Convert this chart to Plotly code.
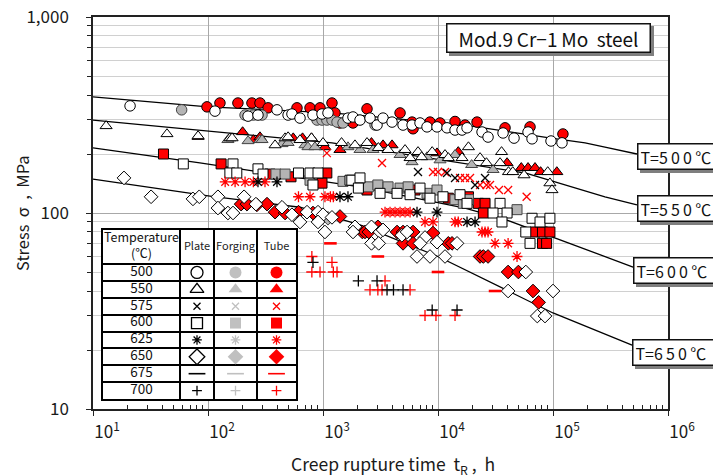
import plotly.graph_objects as go

# ---------------- data (creep rupture time h, stress MPa) ----------------
t500_plate = [21, 115, 223, 272, 398, 497, 537, 631, 818, 980, 1105, 1649, 1823, 2098, 2563, 2950, 3327, 3985, 4966, 5949,
              6975, 8026, 9806, 11981, 14062, 16180, 17885, 24154, 27234, 36780, 45829, 60650, 65722, 96076, 119700]
s500_plate = [352, 331, 312, 316, 336, 316, 320, 305, 316, 320, 324, 305, 309, 298, 305, 281, 305, 291, 281, 281,
              288, 275, 275, 272, 265, 265, 272, 259, 244, 256, 241, 259, 239, 233, 228]
t500_forg = [59, 210, 248, 295, 887, 980, 1080, 1197, 1324, 1492, 2834]
s500_forg = [336, 316, 316, 316, 298, 298, 298, 298, 291, 288, 281]
t500_tube = [98, 127, 182, 241, 283, 333, 594, 771, 942, 1197, 1271, 1405, 1823, 2414, 4677, 5949, 6068, 8522, 10412,
             14062, 17181, 21852, 38287, 63135, 122000]
s500_tube = [348, 364, 364, 364, 364, 344, 344, 344, 344, 364, 324, 288, 288, 340, 324, 291, 269, 291, 288,
             293, 281, 291, 272, 275, 253]

t550_plate = [13, 44, 82, 155, 162, 383, 468, 497, 631, 794, 1000, 1450, 1897, 2414, 3030, 3680, 5170, 5715, 6700, 7200,
              8900, 11509, 12300, 16180, 18400, 23203, 26400, 35700, 34638, 41000, 44700, 56000, 90000, 94000, 98000]
s550_plate = [278, 253, 247, 241, 241, 222, 241, 244, 236, 241, 228, 228, 222, 228, 215, 210, 210, 191, 205, 193,
              205, 198, 191, 191, 217, 191, 180, 205, 180, 162, 162, 156, 162, 142, 131]
t550_forg = [149, 223, 283, 295, 440, 497, 697, 740, 851, 1649, 2098, 2722, 4677, 5949, 8026, 10412, 14062, 19600, 30104]
s550_forg = [236, 233, 236, 236, 225, 228, 222, 217, 217, 217, 210, 210, 198, 182, 193, 186, 198, 176, 166]
t550_tube = [82, 200, 248, 283, 551, 664, 794, 1040, 1405, 2640, 3327, 3985, 9806, 15000, 39856, 53000, 60650, 69787,
             78000, 108000]
s550_tube = [245, 259, 236, 244, 241, 241, 241, 217, 210, 228, 222, 222, 202, 205, 180, 170, 170, 170, 162, 162]

t575_plate = [6700, 11981, 14062, 20992, 25648]
s575_plate = [162, 160, 151, 139, 151]
t575_tube = [1080, 3260, 9049, 10000, 11509, 15543, 17181, 18991, 23203, 26400, 28350, 33900, 40700, 59000]
s575_tube = [202, 180, 162, 162, 162, 151, 151, 151, 139, 139, 139, 131, 131, 121]

t600_plate = [61, 165, 155, 178, 272, 301, 612, 771, 905, 818, 1717, 1780, 2098, 2030, 3133, 4405, 5715, 6975, 8522,
              11056, 15543, 17885, 34638, 30104, 39856, 36000, 65722, 77114, 94000, 58000, 63135]
s600_plate = [178, 178, 160, 160, 168, 158, 160, 160, 160, 139, 147, 147, 151, 134, 126, 126, 124, 134, 119,
              121, 124, 112, 112, 100, 100, 90, 94, 90, 94, 80, 70]
t600_forg = [390, 468, 771, 1492, 2480, 3000, 3680, 4677, 5500, 8026, 9806, 14062, 16600, 18400, 48663]
s600_forg = [158, 158, 147, 145, 136, 139, 136, 134, 136, 126, 131, 117, 112, 117, 104]
t600_tube = [41, 130, 346, 527, 1080, 980, 2414, 6310, 12300, 18400, 22400, 25648, 24800, 69787, 81000, 94000,
             81000, 88000]
s600_tube = [200, 178, 158, 153, 160, 142, 131, 131, 119, 121, 112, 112, 100, 80, 80, 80, 70, 70]

t625_plate = [272, 398, 1405, 1649, 6569, 9806, 17885, 20992]
s625_plate = [144, 144, 121, 121, 101, 101, 90, 90]
t625_tube = [141, 172, 210, 248, 313, 612, 771, 1040, 1160, 1230, 3463, 3828, 4232, 4677, 5170, 5715, 7710, 9049,
             14062, 15000, 24154, 25648, 27234, 31337, 40700, 48663]
s625_tube = [144, 144, 144, 144, 144, 121, 121, 121, 121, 121, 101, 101, 101, 101, 101, 101, 90, 90,
             90, 90, 80, 80, 80, 70, 70, 60]

t650_plate = [18.6, 32, 74, 84, 122, 122, 149, 165, 206, 261, 440, 537, 726, 631, 905, 1000, 905, 1040, 1197, 1897,
              1823, 2640, 3133, 3327, 2640, 3050, 4850, 5382, 7710, 6975, 9806, 6569, 8522, 11509, 14638, 58000,
              40700, 100000, 73000, 85210]
s650_plate = [151, 121, 118, 121, 121, 106, 100, 100, 121, 111, 107, 98, 101, 90, 101, 98, 90, 80, 95, 85,
              80, 85, 80, 82, 70, 70, 77, 80, 75, 70, 71, 60, 60, 60, 70, 50,
              40, 40, 29.8, 29.8]
t650_forg = [1105]
s650_forg = [94]
t650_tube = [194, 218, 266, 326, 383, 468, 612, 818, 1405, 2200, 2318, 2500, 3000, 4405, 4966, 6068, 9049, 4966,
             6068, 12300, 13243, 23203, 24800, 27234, 40700, 50000, 67000, 75000]
s650_tube = [111, 111, 110, 111, 101, 100, 101, 100, 96, 80, 80, 80, 85, 80, 80, 80, 79, 70,
             70, 70, 70, 60, 60, 60, 50, 50, 40, 35]

t675_tube = [1160, 3000, 10000, 31337]
s675_tube = [70, 60, 50, 40]

t700_plate = [818, 2030, 2950, 3605, 4100, 4966, 8900, 14638]
s700_plate = [56, 45, 45, 40.5, 40.5, 40.5, 32, 32]
t700_tube = [800, 800, 942, 1197, 1230, 1324, 3463, 2563, 3000, 3260, 5715, 7710, 9600, 14062]
s700_tube = [60, 50, 50, 56, 50, 50, 45, 40.5, 40.5, 40.5, 40.5, 30, 30, 30]

# master curves (with leader to label)
curve500_t = [10, 100, 1197, 17181, 96076, 190000, 283000, 537000]
curve500_s = [391, 348, 324, 281, 241, 228, 217, 200]
curve550_t = [10, 77, 1197, 57117, 283000, 537000]
curve550_s = [298, 265, 228, 160, 121, 110]
curve600_t = [10, 85, 2098, 17181, 39856, 497000]
curve600_s = [215, 180, 136, 106, 92, 53]
curve650_t = [10, 104, 631, 2098, 10000, 100000, 487000]
curve650_s = [149, 122, 107, 87, 60, 30.9, 21.2]

temps = [500, 550, 575, 600, 625, 650, 675, 700]
forms = ["Plate", "Forging", "Tube"]
x_tickvals = [1e1, 1e2, 1e3, 1e4, 1e5, 1e6]
x_ticktext = ["10<sup>1</sup>", "10<sup>2</sup>", "10<sup>3</sup>", "10<sup>4</sup>", "10<sup>5</sup>", "10<sup>6</sup>"]
y_tickvals = [10, 100, 1000]
y_ticktext = ["10", "100", "1,000"]
curve_labels = ["T=5\u20090\u20090\u2009℃", "T=5\u20095\u20090\u2009℃", "T=6\u20090\u20090\u2009℃", "T=6\u20095\u20090\u2009℃"]
title_text = "Mod.9\u2009Cr−1\u2009Mo  steel"

series = [
    (500, "Tube", t500_tube, s500_tube), (500, "Forging", t500_forg, s500_forg), (500, "Plate", t500_plate, s500_plate),
    (550, "Tube", t550_tube, s550_tube), (550, "Forging", t550_forg, s550_forg), (550, "Plate", t550_plate, s550_plate),
    (575, "Tube", t575_tube, s575_tube), (575, "Plate", t575_plate, s575_plate),
    (600, "Tube", t600_tube, s600_tube), (600, "Forging", t600_forg, s600_forg), (600, "Plate", t600_plate, s600_plate),
    (625, "Tube", t625_tube, s625_tube), (625, "Plate", t625_plate, s625_plate),
    (650, "Tube", t650_tube, s650_tube), (650, "Forging", t650_forg, s650_forg), (650, "Plate", t650_plate, s650_plate),
    (675, "Tube", t675_tube, s675_tube),
    (700, "Tube", t700_tube, s700_tube), (700, "Plate", t700_plate, s700_plate),
]
curves = [(curve500_t, curve500_s), (curve550_t, curve550_s), (curve600_t, curve600_s), (curve650_t, curve650_s)]

# ---------------- styles ----------------
SYM = {500: "circle", 550: "triangle-up", 575: "x-thin", 600: "square", 625: "asterisk",
       650: "diamond", 675: "line-ew", 700: "cross-thin"}
SIZE = {500: 10.5, 550: 10.5, 575: 8, 600: 10, 625: 9, 650: 10.5, 675: 9, 700: 8}
LINE_SYMS = {575, 625, 675, 700}
FILL = {"Plate": "#ffffff", "Forging": "#b4b4b4", "Tube": "#ff0000"}
STROKE = {"Plate": "#000000", "Forging": "#b4b4b4", "Tube": "#ff0000"}
KEY_FILL = {"Plate": "#ffffff", "Forging": "#c0c0c0", "Tube": "#ff0000"}

fig = go.Figure()

for ct, cs in curves:
    fig.add_trace(go.Scatter(x=ct, y=cs, mode="lines", line=dict(color="#000000", width=1.3),
                             hoverinfo="skip"))

for temp, form, tt, ss in series:
    if temp in LINE_SYMS:
        marker = dict(symbol=SYM[temp], size=SIZE[temp],
                      line=dict(color=STROKE[form], width=2.6 if temp == 675 else 1.3))
    else:
        marker = dict(symbol=SYM[temp], size=SIZE[temp], color=FILL[form],
                      line=dict(color="#000000" if form != "Forging" else "#444444", width=1))
    fig.add_trace(go.Scatter(x=tt, y=ss, mode="markers", marker=marker, name=f"{temp} {form}"))

# ---------------- key table (own subplot) ----------------
col_edges = [0, 77, 111, 154, 193]
col_centers = [(a + b) / 2 for a, b in zip(col_edges[:-1], col_edges[1:])]
header_h = 34
table_h = 169
row_h = (table_h - header_h) / len(temps)
row_centers = [header_h + row_h * (i + 0.5) for i in range(len(temps))]
row_lines = [header_h + row_h * k for k in range(len(temps))]

fig.add_trace(go.Scatter(x=[col_centers[0]] * len(temps), y=row_centers, mode="text",
                         text=[str(t) for t in temps], textfont=dict(size=13.5, color="#111111"),
                         xaxis="x2", yaxis="y2"))
fig.add_trace(go.Scatter(x=[col_centers[0]], y=[header_h / 2], mode="text",
                         text=["Temperature<br>(℃)"], textfont=dict(size=12.5, color="#111111"),
                         xaxis="x2", yaxis="y2"))
fig.add_trace(go.Scatter(x=col_centers[1:], y=[header_h / 2] * 3, mode="text",
                         text=forms, textfont=dict(size=11, color="#222222"),
                         xaxis="x2", yaxis="y2"))
KEY_SIZE = {500: 12, 550: 12, 575: 7, 600: 11, 625: 8, 650: 12, 675: 12, 700: 7}
for ci, form in enumerate(forms):
    for ri, temp in enumerate(temps):
        if temp in LINE_SYMS:
            mk = dict(symbol=SYM[temp], size=KEY_SIZE[temp],
                      line=dict(color=STROKE[form] if form != "Forging" else "#c0c0c0",
                                width=1.6 if temp == 675 else 1.3))
        elif form == "Plate":
            mk = dict(symbol=SYM[temp], size=KEY_SIZE[temp], color="#ffffff",
                      line=dict(color="#000000", width=1.3))
        else:
            mk = dict(symbol=SYM[temp], size=KEY_SIZE[temp], color=KEY_FILL[form], line=dict(width=0))
        fig.add_trace(go.Scatter(x=[col_centers[ci + 1]], y=[row_centers[ri]], mode="markers",
                                 marker=mk, xaxis="x2", yaxis="y2", hoverinfo="skip"))

FONT = "Noto Sans CJK JP, Noto Sans, DejaVu Sans, sans-serif"
fig.update_layout(
    width=713, height=476,
    margin=dict(l=93, r=45, t=17, b=67, autoexpand=False),
    paper_bgcolor="#ffffff", plot_bgcolor="#ffffff",
    showlegend=False,
    font=dict(family=FONT, color="#1a1a1a"),
    xaxis=dict(type="log", range=[1, 6], tickmode="array", tickvals=x_tickvals, ticktext=x_ticktext,
               automargin=False,
               ticks="outside", ticklen=5, tickwidth=1.3, tickcolor="#222222",
               tickfont=dict(size=17, color="#1a1a1a"), ticklabelshift=14, ticklabelstandoff=2,
               showgrid=True, gridcolor="#a8a8a8", gridwidth=1.3, zeroline=False,
               showline=True, linecolor="#222222", linewidth=1.5, mirror=True,
               minor=dict(tickmode="array",
                          tickvals=[m * 10 ** e for e in range(1, 6) for m in range(2, 10)],
                          ticks="inside", ticklen=4, tickwidth=1, tickcolor="#222222", showgrid=False)),
    yaxis=dict(type="log", range=[1, 3], tickmode="array", tickvals=y_tickvals, ticktext=y_ticktext,
               automargin=False,
               ticks="outside", ticklen=5, tickwidth=1.3, tickcolor="#222222",
               tickfont=dict(size=17, color="#1a1a1a"), ticklabelstandoff=14,
               showgrid=True, gridcolor="#a8a8a8", gridwidth=1.3, zeroline=False,
               showline=True, linecolor="#222222", linewidth=1.5, mirror=True,
               minor=dict(tickmode="array",
                          tickvals=[m * 10 ** e for e in range(1, 3) for m in range(2, 10)],
                          ticks="outside", ticklen=4, tickwidth=1, tickcolor="#222222",
                          showgrid=True, gridcolor="#d0d0d0", gridwidth=1.4)),
    xaxis2=dict(domain=[10 / 575, 203 / 575], anchor="y2", range=[0, 193], tickmode="array",
                automargin=False,
                tickvals=col_edges[1:-1], showticklabels=False, ticks="", showgrid=True,
                gridcolor="#000000", gridwidth=1.5, zeroline=False,
                showline=True, linecolor="#000000", linewidth=1.5, mirror=True, fixedrange=True),
    yaxis2=dict(domain=[10 / 392, 179 / 392], anchor="x2", range=[table_h, 0], tickmode="array",
                automargin=False,
                tickvals=row_lines, showticklabels=False, ticks="", showgrid=True,
                gridcolor="#000000", gridwidth=1.5, zeroline=False,
                showline=True, linecolor="#000000", linewidth=1.5, mirror=True, fixedrange=True),
)

annotations = []
# axis titles
annotations.append(dict(text="Creep rupture time  t<sub>R</sub> ,  h", xref="paper", yref="paper",
                        x=0.522, y=-0.143, xanchor="center", yanchor="middle", showarrow=False,
                        font=dict(size=17.5, color="#1a1a1a")))
annotations.append(dict(text="Stress  σ  ,  MPa", xref="paper", yref="paper", textangle=-90,
                        x=-0.1235, y=0.5, xanchor="center", yanchor="middle", showarrow=False,
                        font=dict(size=16.5, color="#1a1a1a")))


def boxed(text, x, y, xanchor, width, height, size, pad):
    common = dict(xref="paper", yref="paper", x=x, y=y, xanchor=xanchor, yanchor="middle",
                  showarrow=False, width=width, height=height, borderpad=pad,
                  align="left" if xanchor == "left" else "center")
    shadow = dict(common, text=text, font=dict(size=size, color="#7f7f7f"), bgcolor="#7f7f7f",
                  bordercolor="#7f7f7f", borderwidth=1.5, xshift=3, yshift=-3)
    main = dict(common, text=text, font=dict(size=size, color="#111111"), bgcolor="#ffffff",
                bordercolor="#111111", borderwidth=1.5)
    return [shadow, main]


annotations += boxed(title_text, 0.792, 0.946, "center", 196, 21, 19, 3)
label_pos = [(0.9461, 0.643), (0.9461, 0.5115), (0.9391, 0.3533), (0.9374, 0.144)]
for lab, (lx, ly) in zip(curve_labels, label_pos):
    annotations += boxed(lab, lx, ly, "left", 86, 20, 16, 2)

fig.update_layout(annotations=annotations)
fig.write_html("out.html")
